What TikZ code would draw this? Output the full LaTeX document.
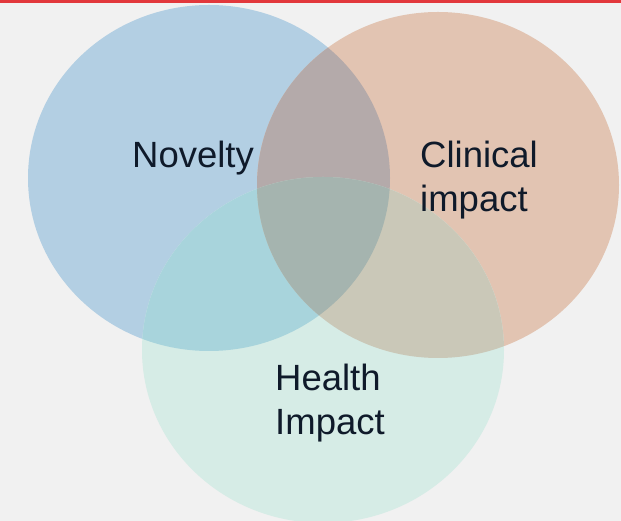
\documentclass[tikz,border=0pt]{standalone}
\usepackage{fontspec}
\setmainfont{Liberation Sans}
\definecolor{bgcol}{HTML}{F1F1F1}
\definecolor{rulecol}{HTML}{E2383C}
\definecolor{ink}{HTML}{0F1A2A}
\definecolor{novcol}{HTML}{B3CFE3}
\definecolor{clicol}{HTML}{E2C4B2}
\definecolor{heacol}{HTML}{D6ECE6}
\definecolor{novcli}{HTML}{B4AAAA}
\definecolor{novhea}{HTML}{A8D4DC}
\definecolor{clihea}{HTML}{CAC8B8}
\definecolor{allcol}{HTML}{A5B4AF}

\begin{document}
\begin{tikzpicture}[
      x=1pt, y=1pt,
      blob/.style={x radius=181pt, y radius=173pt},
      lbl/.style={font=\fontsize{36.5}{44}\selectfont, text=ink, inner sep=0pt, align=left, anchor=north west}
    ]
    \useasboundingbox (0,0) rectangle (621,521);
    \clip (0,0) rectangle (621,521);
    \fill[bgcol] (0,0) rectangle (621,521);
    \fill[rulecol] (0,518) rectangle (621,521);
    % set centres
    \coordinate (nov) at (209,343);
    \coordinate (cli) at (438,336);
    \coordinate (hea) at (323,171);
    \fill[novcol] (nov) ellipse [blob];
    \fill[clicol] (cli) ellipse [blob];
    \fill[heacol] (hea) ellipse [blob];
    % overlaps
    \begin{scope}
      \clip (nov) ellipse [blob];
      \fill[novcli] (cli) ellipse [blob];
      \fill[novhea] (hea) ellipse [blob];
    \end{scope}
    \begin{scope}
      \clip (cli) ellipse [blob];
      \fill[clihea] (hea) ellipse [blob];
    \end{scope}
    \begin{scope}
      \clip (nov) ellipse [blob];
      \clip (cli) ellipse [blob];
      \fill[allcol] (hea) ellipse [blob];
    \end{scope}
    \node[lbl] (novlbl) at (132,380) {Novelty};
    \node[lbl] (clilbl) at (420,380) {Clinical\\impact};
    \node[lbl] (healbl) at (275,157) {Health\\Impact};
  \end{tikzpicture}
\end{document}
